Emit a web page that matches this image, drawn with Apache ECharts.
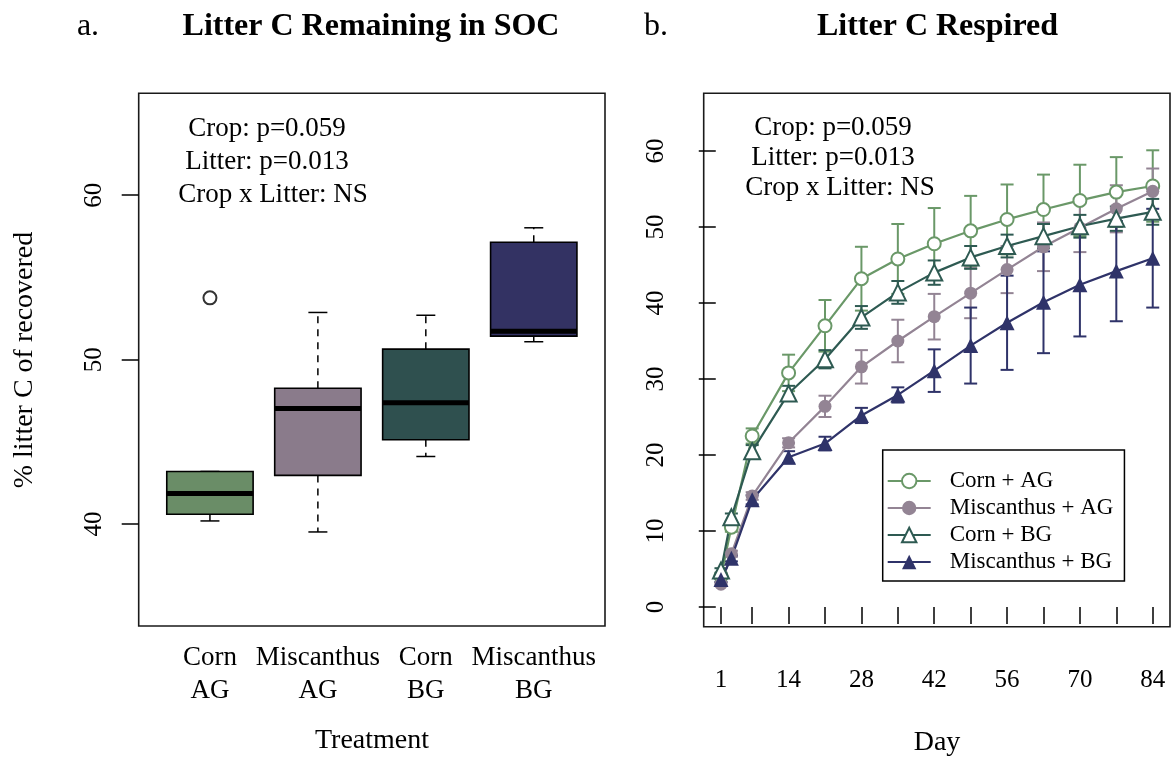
<!DOCTYPE html>
<html>
<head>
<meta charset="utf-8">
<script src="https://cdn.jsdelivr.net/npm/echarts@6/dist/echarts.min.js"></script>
<style>
  html, body { margin: 0; padding: 0; background: #fff; }
  #chart { width: 1172px; height: 761px; }
</style>
</head>
<body>
<div id="chart"></div>
<script>
// ---- Panel a: litter C remaining in SOC (box plots) ----
const treatments = ['Corn\nAG', 'Miscanthus\nAG', 'Corn\nBG', 'Miscanthus\nBG'];
const whiskerLow  = [40.19, 39.52, 44.11, 51.09];
const quartile1   = [40.60, 42.96, 45.13, 51.43];
const medians     = [41.86, 47.03, 47.38, 51.72];
const quartile3   = [43.20, 48.26, 50.64, 57.14];
const whiskerHigh = [43.20, 52.87, 52.70, 58.02];
const outliers    = [[1, 53.76]];
const socTicks    = [40, 50, 60];

// ---- Panel b: cumulative litter C respired (mean ± SE) ----
const days      = [1, 3, 7, 14, 21, 28, 35, 42, 49, 56, 63, 70, 77, 84];
const dayTicks  = [1, 7, 14, 21, 28, 35, 42, 49, 56, 63, 70, 77, 84];
const dayLabels = [1, 14, 28, 42, 56, 70, 84];
const respTicks = [0, 10, 20, 30, 40, 50, 60];

const cornAGMean = [4.0, 10.5, 22.5, 30.8, 37.0, 43.2, 45.8, 47.8, 49.5, 51.0, 52.3, 53.5, 54.6, 55.4];
const cornAGSE   = [0.3, 0.6, 1.0, 2.4, 3.4, 4.2, 4.6, 4.7, 4.6, 4.6, 4.6, 4.7, 4.6, 4.7];
const miscAGMean = [3.0, 7.0, 14.6, 21.6, 26.4, 31.6, 35.0, 38.2, 41.3, 44.4, 47.4, 49.9, 52.4, 54.7];
const miscAGSE   = [0.2, 0.4, 0.5, 0.6, 1.4, 2.2, 2.8, 3.0, 3.3, 3.1, 3.2, 3.2, 3.1, 3.0];
const cornBGMean = [4.8, 11.8, 20.5, 28.1, 32.6, 38.1, 41.4, 44.0, 46.0, 47.5, 48.8, 50.1, 51.1, 52.0];
const cornBGSE   = [0.3, 0.5, 0.8, 1.0, 1.2, 1.5, 1.5, 1.6, 1.5, 1.5, 1.6, 1.5, 1.6, 1.7];
const miscBGMean = [3.6, 6.4, 14.1, 19.7, 21.5, 25.2, 27.9, 31.1, 34.4, 37.4, 40.1, 42.4, 44.2, 45.9];
const miscBGSE   = [0.3, 0.4, 0.6, 0.8, 0.9, 1.0, 1.0, 2.8, 5.0, 6.2, 6.7, 6.8, 6.6, 6.5];

const SERIF = "'Liberation Serif', 'Times New Roman', 'DejaVu Serif', serif";
const boxFills = ['#6a8d67', '#8a7b8b', '#2f504f', '#333263'];

const lineDefs = [
  { name: 'Corn + AG',       mean: cornAGMean, se: cornAGSE, color: '#6a9868', symbol: 'emptyCircle',   size: 13 },
  { name: 'Miscanthus + AG', mean: miscAGMean, se: miscAGSE, color: '#938494', symbol: 'circle',        size: 13 },
  { name: 'Corn + BG',       mean: cornBGMean, se: cornBGSE, color: '#2e5a52', symbol: 'emptyTriangle', size: 16 },
  { name: 'Miscanthus + BG', mean: miscBGMean, se: miscBGSE, color: '#2f3369', symbol: 'triangle',      size: 15 }
];

function seg(x1, y1, x2, y2, style) {
  return { type: 'line', shape: { x1, y1, x2, y2 }, style };
}

// Box, dashed whiskers, staples and thick median, all placed through the axes.
function renderBox(params, api) {
  const i = params.dataIndex;
  const x = api.value(0);
  const half = api.size([0.8, 0])[0] / 2;
  const lo = api.coord([x, api.value(1)]);
  const q1 = api.coord([x, api.value(2)]);
  const md = api.coord([x, api.value(3)]);
  const q3 = api.coord([x, api.value(4)]);
  const hi = api.coord([x, api.value(5)]);
  const cx = lo[0];
  const staple = 9.5;
  const dashed = { stroke: '#000', lineWidth: 1.5, lineDash: [7, 6] };
  const solid = { stroke: '#000', lineWidth: 1.5 };
  return {
    type: 'group',
    children: [
      seg(cx, q3[1], cx, hi[1], dashed),
      seg(cx, q1[1], cx, lo[1], dashed),
      seg(cx - staple, hi[1], cx + staple, hi[1], solid),
      seg(cx - staple, lo[1], cx + staple, lo[1], solid),
      { type: 'rect', shape: { x: cx - half, y: q3[1], width: 2 * half, height: q1[1] - q3[1] },
        style: { fill: boxFills[i], stroke: '#000', lineWidth: 1.6 } },
      seg(cx - half, md[1], cx + half, md[1], { stroke: '#000', lineWidth: 5 })
    ]
  };
}

// Vertical mean ± SE bar with flat caps.
function makeErrorRenderer(color) {
  return function (params, api) {
    const x = api.value(0);
    const m = api.value(1);
    const s = api.value(2);
    const top = api.coord([x, m + s]);
    const bot = api.coord([x, m - s]);
    const cap = 6.5;
    const st = { stroke: color, lineWidth: 2 };
    return {
      type: 'group',
      children: [
        seg(top[0], top[1], bot[0], bot[1], st),
        seg(top[0] - cap, top[1], top[0] + cap, top[1], st),
        seg(bot[0] - cap, bot[1], bot[0] + cap, bot[1], st)
      ]
    };
  };
}

const series = [
  {
    type: 'custom', name: 'soc', xAxisIndex: 0, yAxisIndex: 0,
    renderItem: renderBox,
    encode: { x: 0, y: [1, 2, 3, 4, 5] },
    data: treatments.map((t, i) => [i + 1, whiskerLow[i], quartile1[i], medians[i], quartile3[i], whiskerHigh[i]]),
    silent: true
  },
  {
    type: 'scatter', name: 'outlier', xAxisIndex: 0, yAxisIndex: 0,
    symbol: 'emptyCircle', symbolSize: 13,
    itemStyle: { color: '#000', borderWidth: 1.5 },
    data: outliers, silent: true
  }
];

lineDefs.forEach(d => {
  series.push({
    type: 'custom', name: d.name + ' SE', xAxisIndex: 1, yAxisIndex: 1,
    renderItem: makeErrorRenderer(d.color),
    encode: { x: 0, y: 1 },
    data: days.map((day, k) => [day, d.mean[k], d.se[k]]),
    silent: true
  });
});
lineDefs.forEach(d => {
  series.push({
    type: 'line', name: d.name, xAxisIndex: 1, yAxisIndex: 1,
    data: days.map((day, k) => [day, d.mean[k]]),
    symbol: d.symbol, symbolSize: d.size, showAllSymbol: true,
    lineStyle: { color: d.color, width: 2.2 },
    itemStyle: { color: d.color, borderWidth: 2 },
    silent: true
  });
});

const tickLabel = { color: '#000', fontFamily: SERIF, fontSize: 25 };
const tickStyle = { color: '#000', width: 1.5 };

function label(text, x, y, size, extra) {
  return Object.assign({
    type: 'text', x, y,
    style: { text, font: `${size}px ${SERIF}`, fill: '#000', textAlign: 'center', textVerticalAlign: 'middle' }
  }, extra || {});
}

const option = {
  animation: false,
  backgroundColor: '#fff',
  grid: [
    { left: 138.7, top: 93.3, width: 466.3, height: 532.7, show: true, borderColor: '#1a1a1a', borderWidth: 1.6, backgroundColor: 'transparent' },
    { left: 703.7, top: 93.3, width: 466.3, height: 533.4, show: true, borderColor: '#1a1a1a', borderWidth: 1.6, backgroundColor: 'transparent' }
  ],
  xAxis: [
    {
      gridIndex: 0, type: 'value', min: 0.34, max: 4.66,
      axisLine: { show: false }, axisTick: { show: false }, splitLine: { show: false },
      axisLabel: {
        customValues: [1, 2, 3, 4],
        formatter: v => treatments[Math.round(v) - 1],
        color: '#000', fontFamily: SERIF, fontSize: 27, lineHeight: 33, margin: 15
      }
    },
    {
      gridIndex: 1, type: 'value', min: -2.32, max: 87.32,
      axisLine: { show: false }, splitLine: { show: false },
      axisTick: { show: true, customValues: dayTicks, length: 17, lineStyle: tickStyle },
      axisLabel: Object.assign({ customValues: dayLabels, margin: 41 }, tickLabel)
    }
  ],
  yAxis: [
    {
      gridIndex: 0, type: 'value', min: 33.8, max: 66.2,
      axisLine: { show: false }, splitLine: { show: false },
      axisTick: { show: true, customValues: socTicks, length: 17, lineStyle: tickStyle },
      axisLabel: Object.assign({ customValues: socTicks, rotate: 90, margin: 32 }, tickLabel)
    },
    {
      gridIndex: 1, type: 'value', min: -2.6, max: 67.6,
      axisLine: { show: false }, splitLine: { show: false },
      axisTick: { show: true, customValues: respTicks, length: 17, lineStyle: tickStyle },
      axisLabel: Object.assign({ customValues: respTicks, rotate: 90, margin: 35 }, tickLabel)
    }
  ],
  legend: {
    data: lineDefs.map(d => d.name),
    orient: 'vertical',
    left: 882.7, top: 450,
    padding: [19, 11, 7, 4],
    itemWidth: 43, itemHeight: 18, itemGap: 3,
    borderColor: '#000', borderWidth: 1.5,
    backgroundColor: '#fff',
    selectedMode: false,
    textStyle: { color: '#000', fontFamily: SERIF, fontSize: 23, lineHeight: 24, padding: [0, 0, 0, 14] }
  },
  graphic: [
    label('a.', 88, 27, 32),
    { type: 'text', x: 371, y: 27, style: { text: 'Litter C Remaining in SOC', font: `bold 32px ${SERIF}`, fill: '#000', textAlign: 'center', textVerticalAlign: 'middle' } },
    label('b.', 656, 27, 32),
    { type: 'text', x: 937.5, y: 27, style: { text: 'Litter C Respired', font: `bold 32px ${SERIF}`, fill: '#000', textAlign: 'center', textVerticalAlign: 'middle' } },

    label('Crop: p=0.059', 267, 129, 27),
    label('Litter: p=0.013', 267, 162, 27),
    label('Crop x Litter: NS', 273, 195, 27),

    label('Crop: p=0.059', 833, 128, 27),
    label('Litter: p=0.013', 833, 158, 27),
    label('Crop x Litter: NS', 840, 188, 27),

    label('Treatment', 372, 741, 28),
    label('Day', 937, 743, 28),
    label('% litter C of recovered', 25, 360, 28, { rotation: Math.PI / 2 })
  ],
  series: series
};

const chart = echarts.init(document.getElementById('chart'), null, { renderer: 'canvas' });
chart.setOption(option);
</script>
</body>
</html>
